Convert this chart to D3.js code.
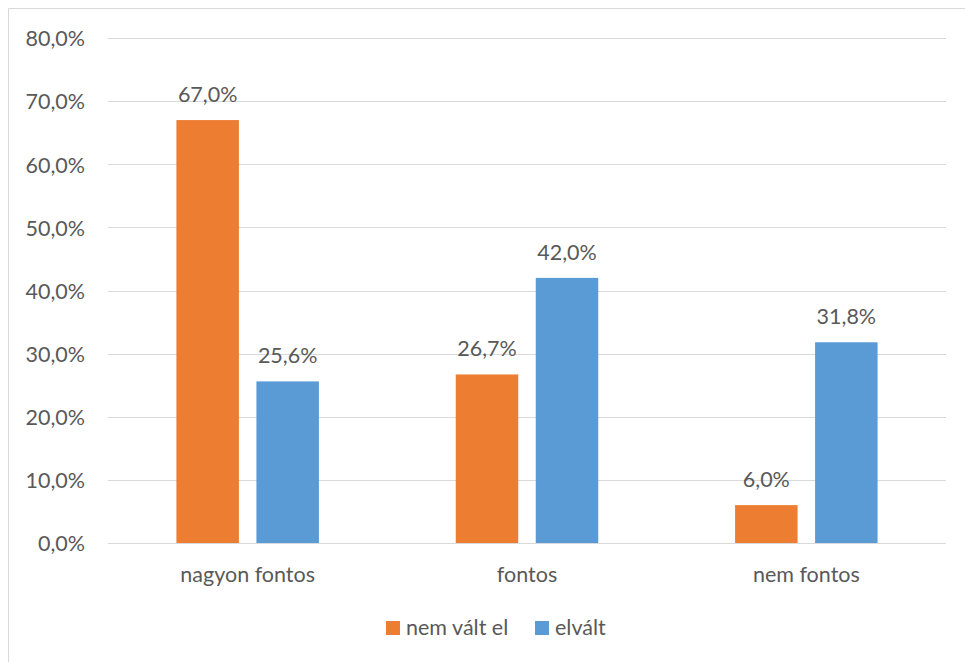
<!DOCTYPE html>
<html><head><meta charset="utf-8">
<script src="https://cdn.jsdelivr.net/npm/d3@7"></script>
<style>body{margin:0;background:#fff}svg{display:block}text{font-family:Lato,"Open Sans",sans-serif;fill:#595959}</style>
</head><body><svg id="c" width="965" height="662"></svg>
<script>
const categories = ["nagyon fontos", "fontos", "nem fontos"];
const seriesNames = ["nem vált el", "elvált"];
const nemValtEl = [67.0, 26.7, 6.0];
const elvalt = [25.6, 42.0, 31.8];
const yTicks = [0, 10, 20, 30, 40, 50, 60, 70, 80];
const colors = ["#ED7D31", "#5B9BD5"];

(function () {
const svg = d3.select("#c");
const fmt = v => v.toFixed(1).replace(".", ",") + "%";
const FS = "21.5px";

// chart border
svg.append("path").attr("d", "M8.5,662 L8.5,8.5 L965,8.5").attr("fill", "none").attr("stroke", "#d9d9d9").attr("stroke-width", 1);

const pLeft = 108, pRight = 946, pTop = 38, pBottom = 543;
const x = d3.scaleBand().domain(categories).range([pLeft, pRight]).paddingInner(0).paddingOuter(0);
const y = d3.scaleLinear().domain([0, 80]).range([pBottom, pTop]);
const bw = 62.5, gap = 17.5;
const x1 = d3.scaleOrdinal().domain(seriesNames).range([-(gap / 2 + bw), gap / 2]);

// gridlines
svg.append("g").selectAll("line").data(yTicks).join("line")
  .attr("x1", pLeft).attr("x2", pRight)
  .attr("y1", d => Math.round(y(d)) + 0.5).attr("y2", d => Math.round(y(d)) + 0.5)
  .attr("stroke", "#d9d9d9").attr("stroke-width", 1.2);

// y axis labels
const yAxis = d3.axisLeft(y).tickValues(yTicks).tickFormat(fmt).tickSize(0).tickPadding(0);
const ya = svg.append("g").attr("transform", `translate(85,0)`).call(yAxis);
ya.select(".domain").remove();
ya.selectAll("text").style("font-size", FS).attr("fill", "#595959").style("font-family", "Lato").attr("dy", "0.36em");

// x axis labels
const xAxis = d3.axisBottom(x).tickSize(0).tickPadding(0);
const xa = svg.append("g").attr("transform", `translate(0,${pBottom + 39})`).call(xAxis);
xa.select(".domain").remove();
xa.selectAll("text").style("font-size", FS).attr("fill", "#595959").style("font-family", "Lato").attr("dy", "0");

const data = [];
categories.forEach((c, i) => {
  data.push({ cat: c, s: seriesNames[0], v: nemValtEl[i], color: colors[0] });
  data.push({ cat: c, s: seriesNames[1], v: elvalt[i], color: colors[1] });
});

svg.append("g").selectAll("rect").data(data).join("rect")
  .attr("x", d => x(d.cat) + x.bandwidth() / 2 + x1(d.s))
  .attr("width", bw)
  .attr("y", d => y(d.v))
  .attr("height", d => y(0) - y(d.v))
  .attr("fill", d => d.color);

svg.append("g").selectAll("text").data(data).join("text")
  .attr("x", d => x(d.cat) + x.bandwidth() / 2 + x1(d.s) + bw / 2)
  .attr("y", d => y(d.v) - 18)
  .attr("text-anchor", "middle")
  .style("font-size", FS)
  .text(d => fmt(d.v));

// legend
const lg = svg.append("g");
const legendItems = [{ n: seriesNames[0], c: colors[0], x: 386 }, { n: seriesNames[1], c: colors[1], x: 535 }];
legendItems.forEach(it => {
  lg.append("rect").attr("x", it.x).attr("y", 621).attr("width", 14).attr("height", 14).attr("fill", it.c);
  lg.append("text").attr("x", it.x + 20).attr("y", 635).style("font-size", FS).text(it.n);
});
})();
</script></body></html>
